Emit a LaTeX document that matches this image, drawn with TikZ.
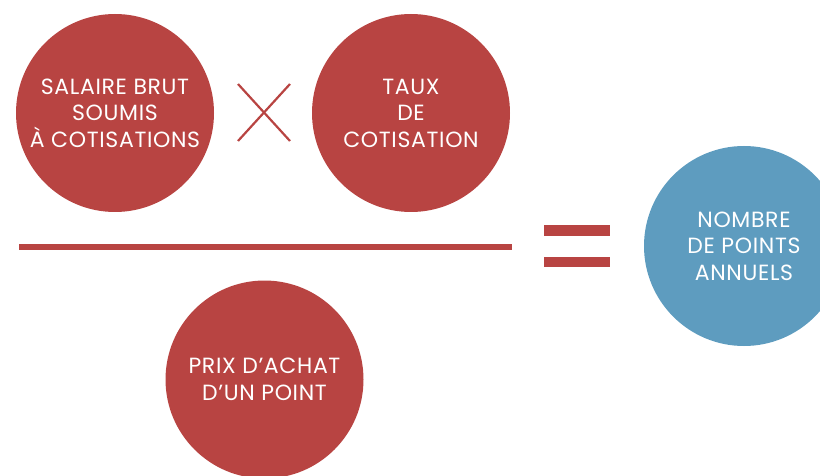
\documentclass[tikz,border=0pt]{standalone}
\usepackage{fontspec}
\setmainfont{Poppins}[LetterSpace=3]
\definecolor{cred}{HTML}{B84442}
\definecolor{cblue}{HTML}{5E9CBF}
\begin{document}
\begin{tikzpicture}[x=1pt,y=-1pt,
  bubble/.style={circle,fill=#1,minimum size=198pt,inner sep=0pt,text=white,
    align=center,font=\fontsize{22}{26.5}\selectfont},
  bar/.style={fill=cred,draw=none}]
\useasboundingbox (0,0) rectangle (820,476);
\begin{scope}
\clip (0,0) rectangle (820,476);
\node[bubble=cred] (salaire) at (115,113) {SALAIRE BRUT\\SOUMIS\\À COTISATIONS};
\node[bubble=cred] (taux) at (411,113) {TAUX\\DE\\COTISATION};
\node[bubble=cred] (prix) at (264.5,379.5) {PRIX D’ACHAT\\D’UN POINT};
\node[bubble=cblue,minimum size=200pt] (nombre) at (744,246) {NOMBRE\\DE POINTS\\ANNUELS};
\end{scope}
% multiplication sign
\draw[cred,line width=2.2pt] (238,84) -- (290,141) (238,141) -- (290,84);
% fraction bar
\fill[bar] (19,244.2) rectangle (512,249.8);
% equals sign
\fill[bar] (544,225.5) rectangle (610,236);
\fill[bar] (544,256.5) rectangle (610,267);
\end{tikzpicture}
\end{document}
